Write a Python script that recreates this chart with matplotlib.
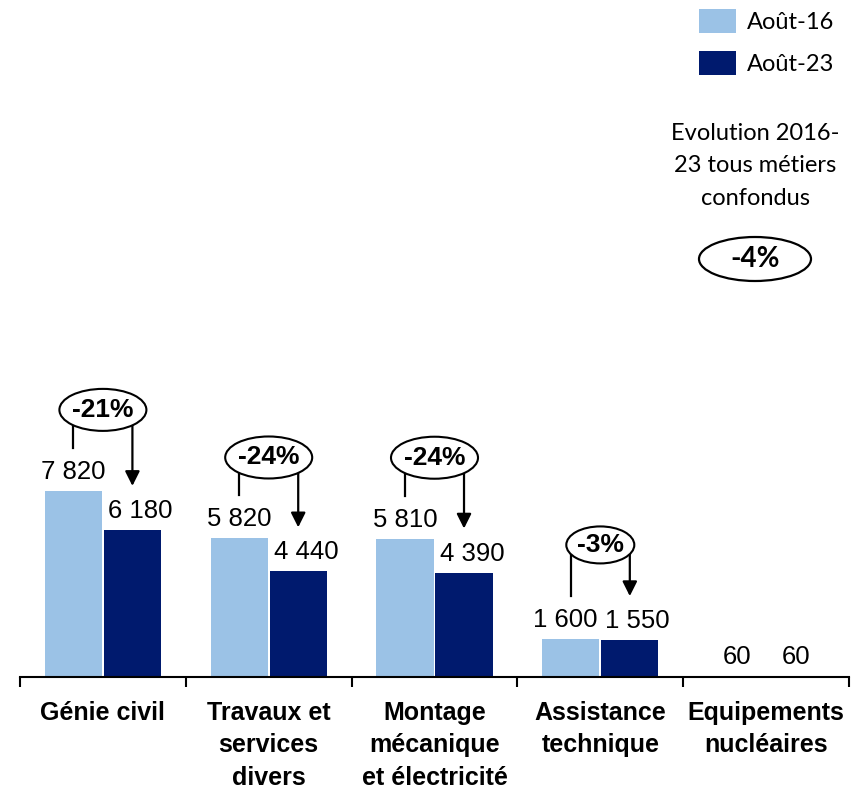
import numpy as np
from matplotlib import pyplot as plt
from matplotlib.patches import Ellipse
from matplotlib.transforms import ScaledTranslation

categories = ["Génie civil", "Travaux et\nservices\ndivers", "Montage\nmécanique\net électricité",
              "Assistance\ntechnique", "Equipements\nnucléaires"]
aout16 = [7820, 5820, 5810, 1600, 60]
aout23 = [6180, 4440, 4390, 1550, 60]
evolutions = ["-21%", "-24%", "-24%", "-3%", None]
series_names = ["Août-16", "Août-23"]
total_evolution = "-4%"
total_caption = "Evolution 2016-\n23 tous métiers\nconfondus"

light = "#9BC2E6"
dark = "#001A6E"

plt.rcParams['font.family'] = ['Liberation Sans', 'DejaVu Sans']

fig = plt.figure(figsize=(8.51, 7.89), dpi=100)
ax = fig.add_axes([20 / 851, 112 / 789, 829 / 851, 357 / 789])

x = np.arange(len(categories))
off = 0.178
w = 0.346
b1 = ax.bar(x - off, aout16, w, color=light, label=series_names[0])
b2 = ax.bar(x + off, aout23, w, color=dark, label=series_names[1])

ax.set_xlim(-0.5, len(categories) - 0.5)
ax.set_ylim(0, 15000)
for s in ["top", "right", "left"]:
    ax.spines[s].set_visible(False)
ax.spines["bottom"].set_linewidth(1.5)
ax.set_yticks([])
ax.set_xticks(np.arange(len(categories) + 1) - 0.5)
ax.set_xticklabels([])
ax.tick_params(axis="x", which="major", length=7, width=1.5, direction="out")
ax.set_xticks(x, minor=True)
ax.set_xticklabels(categories, minor=True, fontsize=18, fontweight="bold", linespacing=1.45)
ax.tick_params(axis="x", which="minor", length=0, pad=17)

# value labels; the second series' labels sit a little to the right like in the source
for sign, xs, vals in [(-1, x - off, aout16), (1, x + off, aout23)]:
    for xi, v in zip(xs, vals):
        lab = f"{v:,}".replace(",", " ")
        nudge = 0
        if v >= 1000:
            nudge = 8 if sign > 0 else (-6 if v < 3000 else 0)
        ax.annotate(lab, (xi, v), xytext=(nudge * 0.72, 12 * 0.72), textcoords="offset points",
                    ha="center", va="baseline", fontsize=18.5)


def anchor(xd, yd):
    return fig.dpi_scale_trans + ScaledTranslation(xd, yd, ax.transData)


# evolution bubbles with bracket and arrow (offsets in px)
ell_dy = [81, 81, 81, 94]
ell_w = [87, 87, 87, 68]
ell_h = [42, 42, 42, 37]
for i, ev in enumerate(evolutions):
    if ev is None:
        continue
    xl, xr = i - off, i + off
    t_ell = anchor(i, aout16[i])
    cy = ell_dy[i] / 100
    ax.plot([0, 0], [cy, 43 / 100], color="black", lw=1.6,
            transform=anchor(xl, aout16[i]), clip_on=False)
    ax.annotate("", xy=(0, 44 / 100), xycoords=anchor(xr, aout23[i]),
                xytext=(0, cy), textcoords=anchor(xr, aout16[i]),
                arrowprops=dict(arrowstyle="-|>", color="black", lw=1.6,
                                mutation_scale=22, shrinkA=0, shrinkB=0))
    e = Ellipse((0, cy), ell_w[i] / 100, ell_h[i] / 100, transform=t_ell,
                facecolor="white", edgecolor="black", lw=1.5, zorder=5, clip_on=False)
    ax.add_artist(e)
    ax.text(0, cy, ev, transform=t_ell, ha="center", va="center", fontsize=19,
            fontweight="bold", zorder=6)

# legend
ax.legend(handles=[b1, b2], labels=series_names, loc="upper left",
          bbox_to_anchor=(699 / 851, 1 - 9 / 789), bbox_transform=fig.transFigure,
          frameon=False, borderpad=0, borderaxespad=0, handlelength=1.55, handleheight=1.2,
          handletextpad=0.5, labelspacing=0.75,
          prop={"family": ["Lato", "DejaVu Sans"], "size": 17})

fig.text(755 / 851, 1 - 166 / 789, total_caption, ha="center", va="center",
         fontsize=17, family=["Lato", "DejaVu Sans"], linespacing=1.7)
fig.add_artist(Ellipse((7.55, (789 - 259) / 100), 1.12, 0.44, transform=fig.dpi_scale_trans,
                       facecolor="white", edgecolor="black", lw=1.6))
fig.text(755 / 851, 1 - 259 / 789, total_evolution, ha="center", va="center",
         fontsize=20, fontweight="bold", family=["Lato", "DejaVu Sans"])

fig.savefig("out.png", dpi=100)
